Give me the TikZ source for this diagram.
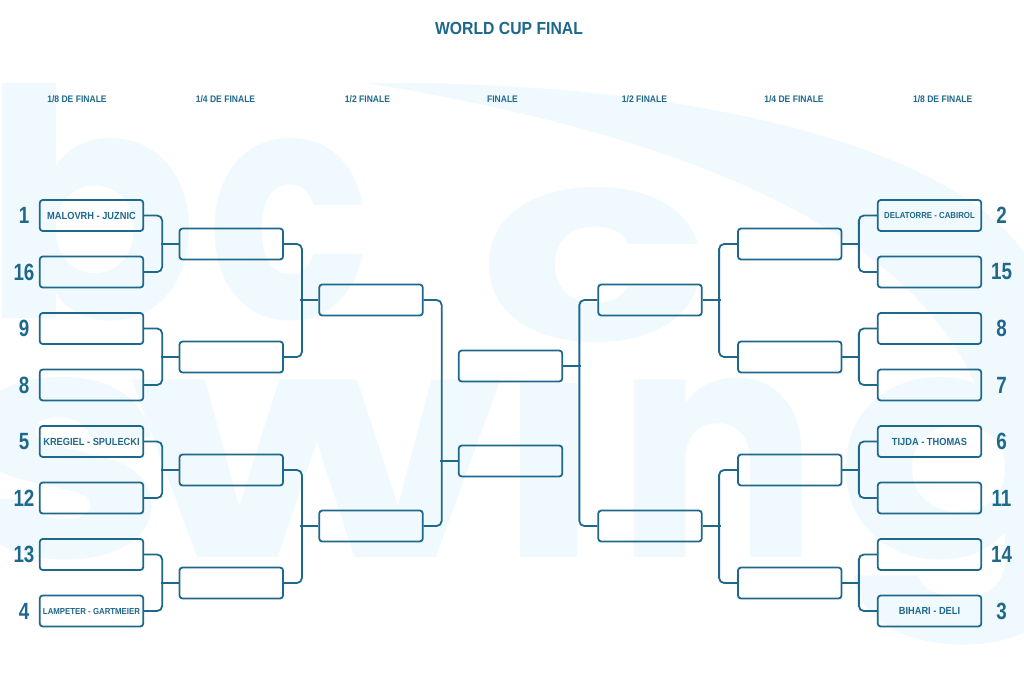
\documentclass[tikz,border=0pt]{standalone}
\usepackage{fontspec}
\newfontfamily\labelfont[FakeStretch=0.9]{Liberation Sans}
\newfontfamily\seedfont[FakeStretch=0.8]{Liberation Sans}
\newfontfamily\markfont{Poppins}
\definecolor{bracket}{HTML}{1E688C}
\definecolor{wmark}{HTML}{F0F9FD}
\tikzset{
  slot/.style={draw=bracket, line width=1.8pt, rounded corners=3pt, minimum width=103.5pt,
    minimum height=31pt, inner sep=0pt, text=bracket,
    font=\labelfont\bfseries\fontsize{10.3}{12}\selectfont},
  link/.style={draw=bracket, line width=1.8pt, rounded corners=5pt},
  seed/.style={text=bracket, font=\seedfont\bfseries\fontsize{23.5}{26}\selectfont},
  roundname/.style={text=bracket, font=\labelfont\bfseries\fontsize{9.5}{11}\selectfont},
  bgletter/.style={text=wmark, inner sep=0pt, anchor=base west,
    font=\markfont\bfseries\fontsize{318}{318}\selectfont},
}
\newcommand{\tightname}{\fontsize{8.7}{10}\selectfont}

\begin{document}
\begin{tikzpicture}[x=1pt, y=-1pt]
  \fill[white] (0,0) rectangle (1024,682);
  \clip (0,0) rectangle (1024,682);

  % watermark
  \fill[wmark] (366,83) .. controls (700,80) and (985,150) .. (1040,280) -- (1040,430)
    -- (990,430) .. controls (950,250) and (720,140) .. (366,83) -- cycle;
  \node[bgletter] (wb) at (-18,318) {b};
  \node[bgletter, xscale=0.85] (wc) at (207,318) {c};
  \node[bgletter, xscale=1.2, yscale=0.85] (wc2) at (478,340) {c};
  \node[bgletter, xscale=1.2] (ws) at (-45,557) {s};
  \node[bgletter, xscale=1.35] (ww) at (130,557) {w};
  \fill[wmark] (520,383) rectangle (577,557);
  \node[bgletter, xscale=0.95] (wn) at (615,557) {n};
  \node[bgletter, xscale=1.2] (wg) at (835,557) {g};

  \node[text=bracket, font=\labelfont\bfseries\fontsize{17.5}{20}\selectfont] (title) at (509,28) {WORLD CUP FINAL};
  \foreach \x/\t [count=\k] in {77/{1/8 DE FINALE}, 225.5/{1/4 DE FINALE}, 367.5/{1/2 FINALE},
      502.5/{FINALE}, 644.5/{1/2 FINALE}, 794/{1/4 DE FINALE}, 942.7/{1/8 DE FINALE}}
    \node[roundname] (head\k) at (\x,99.5) {\t};

  % 1/8
  \foreach \i/\s/\t in {1/1/{MALOVRH - JUZNIC}, 2/16/{}, 3/9/{}, 4/8/{},
      5/5/{KREGIEL - SPULECKI}, 6/12/{}, 7/13/{}, 8/4/{\tightname LAMPETER - GARTMEIER}} {
    \node[slot] (l\i) at (91.5,{215.5+56.5*(\i-1)}) {\t};
    \node[seed] (nl\i) at (24,{215.5+56.5*(\i-1)}) {\s};
  }
  \foreach \i/\s/\t in {1/2/{\tightname DELATORRE - CABIROL}, 2/15/{}, 3/8/{}, 4/7/{},
      5/6/{TIJDA - THOMAS}, 6/11/{}, 7/14/{}, 8/3/{BIHARI - DELI}} {
    \node[slot] (r\i) at (929.5,{215.5+56.5*(\i-1)}) {\t};
    \node[seed] (nr\i) at (1001.5,{215.5+56.5*(\i-1)}) {\s};
  }

  % 1/4, 1/2, finale
  \foreach \i in {1,...,4} {
    \node[slot] (lq\i) at (231.25,{244+113*(\i-1)}) {};
    \node[slot] (rq\i) at (789.75,{244+113*(\i-1)}) {};
  }
  \node[slot] (ls1) at (371,300) {};
  \node[slot] (ls2) at (371,526) {};
  \node[slot] (rs1) at (650,300) {};
  \node[slot] (rs2) at (650,526) {};
  \node[slot] (f1) at (510.5,366) {};
  \node[slot] (f2) at (510.5,461) {};

  \foreach \a/\b/\n in {1/2/1, 3/4/2, 5/6/3, 7/8/4} {
    \draw[link] (l\a.east) -- ++(18,0) |- (l\b.east);
    \draw[link] (lq\n.west) -- ++(-18,0);
    \draw[link] (r\a.west) -- ++(-18,0) |- (r\b.west);
    \draw[link] (rq\n.east) -- ++(18,0);
  }
  \foreach \a/\b/\n in {1/2/1, 3/4/2} {
    \draw[link] (lq\a.east) -- ++(18,0) |- (lq\b.east);
    \draw[link] (ls\n.west) -- ++(-18,0);
    \draw[link] (rq\a.west) -- ++(-18,0) |- (rq\b.west);
    \draw[link] (rs\n.east) -- ++(18,0);
  }
  \draw[link] (ls1.east) -- ++(18,0) |- (ls2.east);
  \draw[link] (f2.west) -- ++(-18,0);
  \draw[link] (rs1.west) -- ++(-18,0) |- (rs2.west);
  \draw[link] (f1.east) -- ++(18,0);
\end{tikzpicture}
\end{document}
